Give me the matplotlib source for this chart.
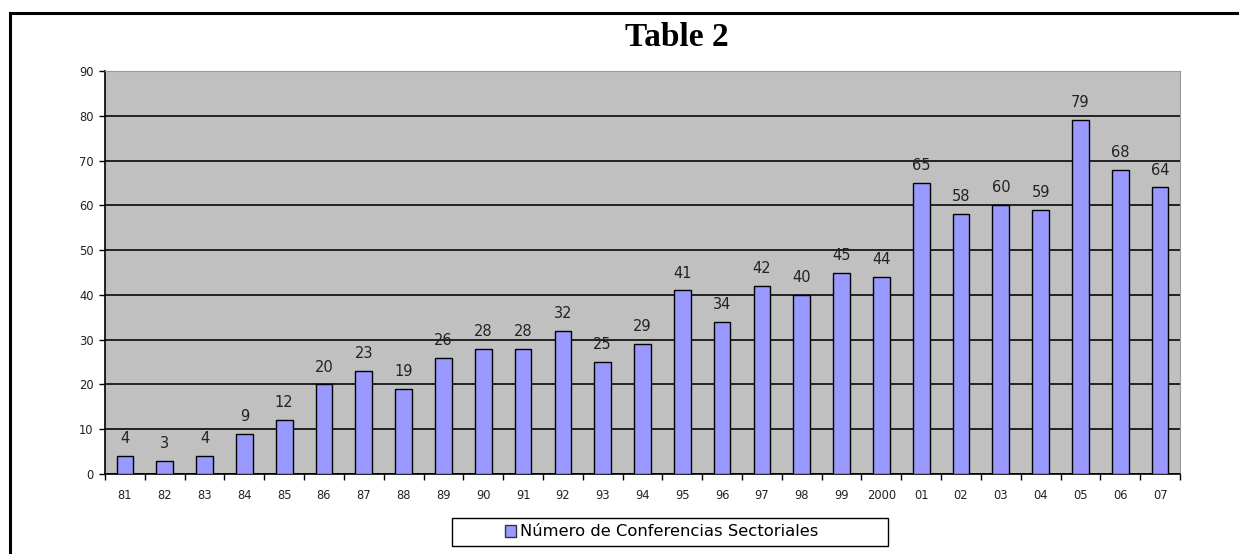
import matplotlib
matplotlib.use("Agg")
import matplotlib.pyplot as plt
from matplotlib.lines import Line2D
from matplotlib.patches import Patch, Rectangle

years = ["81", "82", "83", "84", "85", "86", "87", "88", "89", "90", "91", "92", "93", "94",
         "95", "96", "97", "98", "99", "2000", "01", "02", "03", "04", "05", "06", "07"]
values = [4, 3, 4, 9, 12, 20, 23, 19, 26, 28, 28, 32, 25, 29,
          41, 34, 42, 40, 45, 44, 65, 58, 60, 59, 79, 68, 64]
series_name = "Número de Conferencias Sectoriales"
title = "Table 2"

plt.rcParams['font.family'] = ['DejaVu Sans']

W, H = 1239, 554
fig = plt.figure(figsize=(W / 100, H / 100), dpi=100)
ax = fig.add_axes([105/W, 1-474/H, (1180-105)/W, (474-71)/H])
ax.set_facecolor('#C0C0C0')

x = list(range(len(years)))
ax.bar(x, values, width=0.42, color='#9999FF', edgecolor='black', linewidth=1.0, zorder=3)
for xi, v in zip(x, values):
    ax.text(xi, v + 2.2, str(v), ha='center', va='bottom', fontsize=10.5, color='#222222', zorder=4)

ax.set_xlim(-0.5, len(years) - 0.5)
ax.set_ylim(0, 90)
ax.set_yticks(range(0, 91, 10))
ax.tick_params(axis='y', labelsize=8.3, length=4.3, width=1, direction='out', pad=4, colors='black',
               labelcolor='#222222')
ax.yaxis.grid(True, color='#222222', linewidth=1.4, zorder=1)
ax.set_axisbelow(True)

ax.set_xticks(x)
ax.set_xticklabels(years, fontsize=8.3, color='#222222')
ax.tick_params(axis='x', which='major', length=0, pad=11)
ax.set_xticks([i - 0.5 for i in range(len(years) + 1)], minor=True)
ax.tick_params(axis='x', which='minor', length=4.3, width=1, direction='out')

ax.spines['left'].set_color('black')
ax.spines['left'].set_linewidth(1.2)
ax.spines['bottom'].set_color('black')
ax.spines['bottom'].set_linewidth(1.2)
ax.spines['top'].set_color('#999999')
ax.spines['right'].set_color('#999999')

# legend box
fig.add_artist(Rectangle((452/W, 1-546/H), (888-452)/W, (546-518)/H, transform=fig.transFigure,
                         facecolor='white', edgecolor='black', linewidth=1.0))
leg = fig.legend(handles=[Patch(facecolor='#9999FF', edgecolor='#333333', label=series_name)],
                 loc='center left', bbox_to_anchor=(505/W, 1-532/H),
                 fontsize=11.8, frameon=False, handlelength=0.7, handleheight=0.7,
                 handletextpad=0.2, borderpad=0, borderaxespad=0)

fig.text(677/W, 1-38/H, title, ha='center', va='center', fontsize=24, fontweight='bold',
         family=['Liberation Serif', 'DejaVu Serif'])

fig.add_artist(Line2D([10/W, 1.0], [1-13/H, 1-13/H], color='black', linewidth=2.2, transform=fig.transFigure))
fig.add_artist(Line2D([10/W, 10/W], [0, 1-13/H], color='black', linewidth=2.2, transform=fig.transFigure))

fig.savefig('out.png', dpi=100)
